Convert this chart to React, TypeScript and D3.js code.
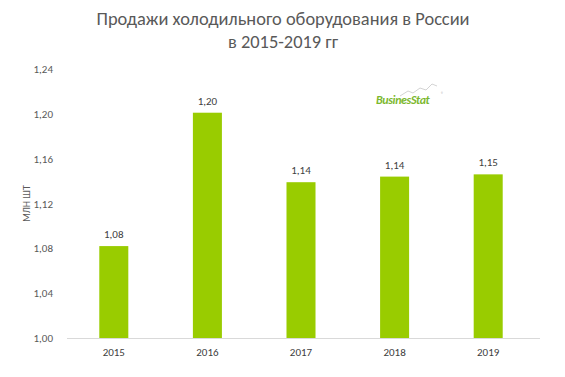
import React from "react";
import * as d3 from "d3";

const categories = ["2015", "2016", "2017", "2018", "2019"];
const values = [1.082, 1.201, 1.139, 1.144, 1.146];
const labels = ["1,08", "1,20", "1,14", "1,14", "1,15"];
const yTicks = [1.0, 1.04, 1.08, 1.12, 1.16, 1.2, 1.24];
const titleLines = ["Продажи холодильного оборудования в России", "в 2015-2019 гг"];
const yTitle = "МЛН ШТ";

const W = 565, H = 377;
const FONT = "Calibri, Carlito, 'Open Sans', 'Liberation Sans', sans-serif";

export default function App() {
  const x = d3.scaleBand<string>().domain(categories).range([67, 535]).paddingInner(0.69).paddingOuter(0.345);
  const y = d3.scaleLinear().domain([1.0, 1.24]).range([338, 69]);
  const fmt = (v: number) => v.toFixed(2).replace(".", ",");
  return (
    <svg width={W} height={H} style={{ position: "absolute", left: 0, top: 0, background: "#fff" }} fontFamily={FONT}>
      <rect x={0} y={0} width={W} height={H} fill="#fff" />
      {titleLines.map((t, i) => (
        <text key={i} x={283} y={25 + i * 23} textAnchor="middle" fontSize={18.4} fill="#595959">{t}</text>
      ))}
      <text transform={`translate(30,${y(1.12)}) rotate(-90)`} textAnchor="middle" fontSize={10} fill="#595959">{yTitle}</text>
      {yTicks.map((t) => (
        <text key={t} x={53} y={y(t) + 4} textAnchor="end" fontSize={11} fill="#595959">{fmt(t)}</text>
      ))}
      {categories.map((c, i) => (
        <g key={c}>
          <rect x={x(c)} y={y(values[i])} width={x.bandwidth()} height={y(1.0) - y(values[i])} fill="#99cc00" />
          <text x={(x(c) as number) + x.bandwidth() / 2} y={y(values[i]) - 8} textAnchor="middle" fontSize={11} fill="#404040">{labels[i]}</text>
          <text x={(x(c) as number) + x.bandwidth() / 2} y={356} textAnchor="middle" fontSize={11} fill="#404040">{c}</text>
        </g>
      ))}
      <line x1={67} x2={540} y1={338.5} y2={338.5} stroke="#d9d9d9" strokeWidth={1} />
      <g>
        <path d="M400,96 L408,91 L413,93 L420,88 L426,90 L432,84 L437,86" fill="none" stroke="#c8c8c8" strokeWidth={0.8} />
        <text x={376} y={104} fontSize={12} fontWeight="bold" fontStyle="italic" fill="#7cb82f" letterSpacing={-0.4}>BusinesStat</text>
        <text x={441} y={96} fontSize={5} fill="#999">®</text>
      </g>
    </svg>
  );
}
